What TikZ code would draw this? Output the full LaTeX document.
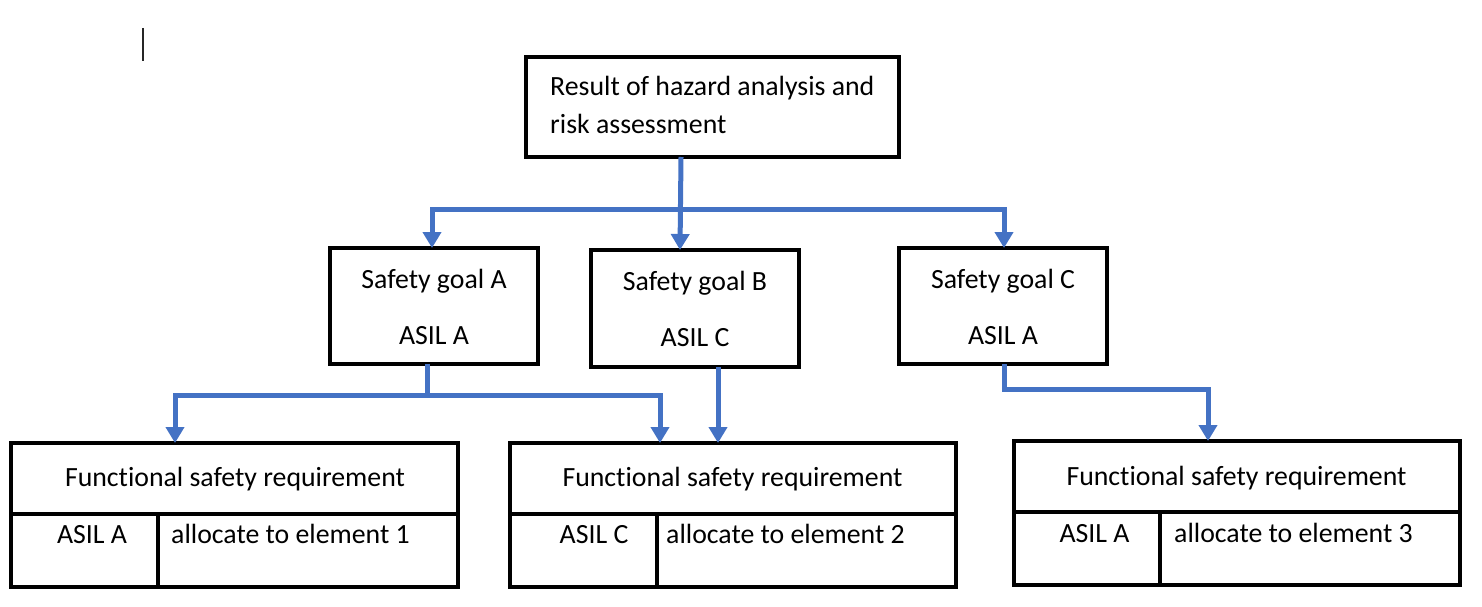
\documentclass[tikz,border=0pt]{standalone}
\usepackage{fontspec}
\setmainfont{Carlito}[Ligatures={NoCommon},RawFeature={-liga}]
\usetikzlibrary{arrows.meta}
\definecolor{connblue}{HTML}{4472C4}
\begin{document}
\begin{tikzpicture}[x=1pt,y=-1pt,
  box/.style={draw=black,line width=3.2pt,inner sep=0pt,outer sep=0pt,rectangle},
  rule/.style={draw=black,line width=3.2pt},
  txt/.style={font=\fontsize{27.8}{33}\selectfont,inner sep=0pt,anchor=base},
  ltxt/.style={txt,anchor=base west},
  link/.style={draw=connblue,line width=5pt},
  arr/.style={link,-{Triangle[width=18pt,length=16pt]}}]
\useasboundingbox (0,0) rectangle (1482,607);
% cursor mark
\draw[line width=1.5pt,black!85] (143,28) -- (143,61);
% top box
\node[box,minimum width=373pt,minimum height=100pt] (T) at (712.5,107) {};
\node[ltxt] (T1) at (550,96) {Result of hazard analysis and};
\node[ltxt] (T2) at (550,133) {risk assessment};
% safety goals
\node[box,minimum width=208pt,minimum height=116pt] (A) at (434,306) {};
\node[txt] (A1) at (434,288) {Safety goal A};
\node[txt] (A2) at (434,344) {ASIL A};
\node[box,minimum width=208pt,minimum height=117pt] (B) at (695,308.5) {};
\node[txt] (B1) at (695,290) {Safety goal B};
\node[txt] (B2) at (695,346) {ASIL C};
\node[box,minimum width=208pt,minimum height=116pt] (C) at (1003,306) {};
\node[txt] (C1) at (1003,288) {Safety goal C};
\node[txt] (C2) at (1003,344) {ASIL A};
% functional safety requirements
\node[box,minimum width=447pt,minimum height=144pt] (F1) at (234.5,515) {};
\coordinate (F1d) at (11,514);
\coordinate (F1v) at (158,514);
\draw[rule] (F1d) -- (F1d -| F1.east);
\draw[rule] (F1v) -- (F1v |- F1.south);
\node[txt] (F1t) at (235,486) {Functional safety requirement};
\node[txt] (F1a) at (92,543) {ASIL A};
\node[ltxt] (F1b) at (171,543) {allocate to element 1};

\node[box,minimum width=446pt,minimum height=144pt] (F2) at (733,515) {};
\coordinate (F2d) at (510,514);
\coordinate (F2v) at (657,514);
\draw[rule] (F2d) -- (F2d -| F2.east);
\draw[rule] (F2v) -- (F2v |- F2.south);
\node[txt] (F2t) at (732.5,486) {Functional safety requirement};
\node[txt] (F2a) at (594,543) {ASIL C};
\node[ltxt] (F2b) at (666,543) {allocate to element 2};

\node[box,minimum width=446pt,minimum height=144pt] (F3) at (1237,513) {};
\coordinate (F3d) at (1014,512);
\coordinate (F3v) at (1160,512);
\draw[rule] (F3d) -- (F3d -| F3.east);
\draw[rule] (F3v) -- (F3v |- F3.south);
\node[txt] (F3t) at (1236.5,485) {Functional safety requirement};
\node[txt] (F3a) at (1094.5,542) {ASIL A};
\node[ltxt] (F3b) at (1174,542) {allocate to element 3};
% connectors from top box
\coordinate (jT) at (681,209);
\coordinate (xA) at (432,0);
\coordinate (xB) at (680,0);
\coordinate (xC) at (1004,0);
\draw[arr] (T.south -| jT) -- (B.north -| xB);
\draw[arr] (jT) -| (A.north -| xA);
\draw[arr] (jT) -| (C.north -| xC);
% connectors from safety goal A
\coordinate (jA) at (427,395);
\coordinate (x1) at (175,0);
\coordinate (x2) at (660,0);
\draw[link] (A.south -| jA) -- (jA);
\draw[arr] (jA) -| (F1.north -| x1);
\draw[arr] (jA) -| (F2.north -| x2);
% from safety goal B
\coordinate (x3) at (718,0);
\draw[arr] (B.south -| x3) -- (F2.north -| x3);
% from safety goal C
\coordinate (jC) at (1004,389);
\coordinate (x4) at (1208,0);
\draw[arr] (C.south -| jC) -- (jC) -| (F3.north -| x4);
\end{tikzpicture}
\end{document}
